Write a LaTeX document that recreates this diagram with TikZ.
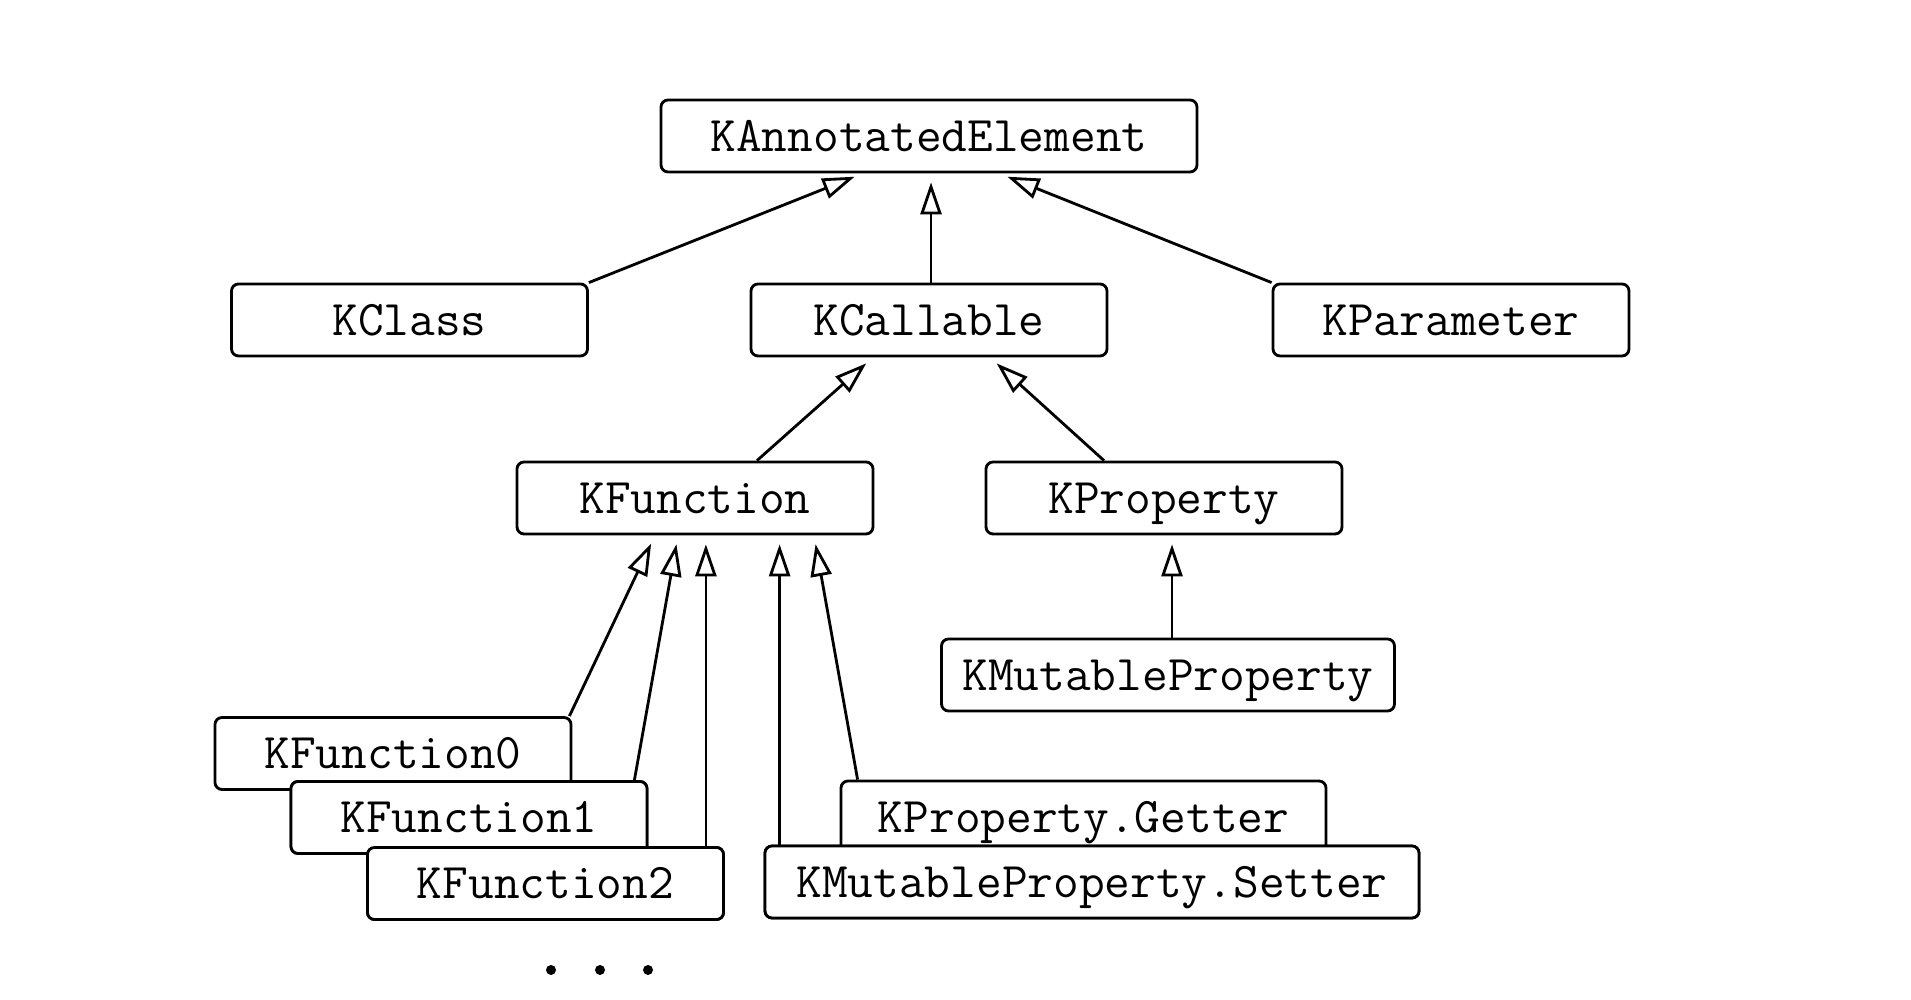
\documentclass[tikz,border=0pt]{standalone}
\usepackage{fontspec}
\usetikzlibrary{arrows.meta}

\begin{document}
\begin{tikzpicture}[
    klass/.style={draw, rounded corners=2pt, fill=white, line width=0.8pt,
        minimum width=3.56cm, minimum height=0.72cm, inner sep=0pt,
        text height=9.5pt, text depth=0.8pt,
        font=\ttfamily\fontsize{14.2}{16}\selectfont},
    inherit/.style={-{Triangle[open, length=0.32cm, width=0.21cm]},
        line width=0.8pt, shorten >=0.09cm}
]
    \useasboundingbox (0,0) rectangle (19.11,10);

    % Draw nodes
    \node[klass, minimum width=5.36cm] (kannot) at (9.29,8.64) {KAnnotatedElement};
    \node[klass] (kclass) at (4.095,6.80) {KClass};
    \node[klass] (kcall) at (9.29,6.80) {KCallable};
    \node[klass] (kparam) at (14.51,6.80) {KParameter};
    \node[klass] (kfun) at (6.95,5.02) {KFunction};
    \node[klass] (kprop) at (11.64,5.02) {KProperty};
    \node[klass, minimum width=4.53cm] (kmutprop) at (11.68,3.25) {KMutableProperty};
    \node[klass] (kfun0) at (3.93,2.465) {KFunction0};
    \node[klass] (kfun1) at (4.69,1.825) {KFunction1};
    \node[klass] (kfun2) at (5.455,1.165) {KFunction2};
    \node[klass, minimum width=4.85cm] (kgetter) at (10.835,1.83) {KProperty.Getter};
    \node[klass, minimum width=6.54cm] (ksetter) at (10.92,1.18) {KMutableProperty.Setter};

    % Draw connections
    \draw[inherit] (kclass.north east) -- ([xshift=-0.66cm]kannot.south);
    \draw[inherit] ([xshift=0.02cm]kcall.north) -- ([xshift=0.02cm]kannot.south);
    \draw[inherit] (kparam.north west) -- ([xshift=0.70cm]kannot.south);
    \draw[inherit] ([xshift=0.62cm]kfun.north) -- ([xshift=-0.56cm]kcall.south);
    \draw[inherit] ([xshift=-0.60cm]kprop.north) -- ([xshift=0.61cm]kcall.south);
    \draw[inherit] ([xshift=-0.03cm]kfun0.north east) -- ([xshift=-0.40cm]kfun.south);
    \draw[inherit] ([xshift=-0.14cm]kfun1.north east) -- ([xshift=-0.17cm]kfun.south);
    \draw[inherit] ([xshift=-0.19cm]kfun2.north east) -- ([xshift=-0.19cm]kfun2.north east |- kfun.south);
    \draw[inherit] ([xshift=0.16cm]ksetter.north west) -- ([xshift=0.16cm]ksetter.north west |- kfun.south);
    \draw[inherit] ([xshift=0.18cm]kgetter.north west) -- ([xshift=1.19cm]kfun.south);
    \draw[inherit] ([xshift=0.04cm]kmutprop.north) -- ([xshift=0.04cm]kmutprop.north |- kprop.south);

    % Boxes again on top of the lines
    \node[klass] at (kfun1) {KFunction1};
    \node[klass] at (kfun2) {KFunction2};
    \node[klass, minimum width=6.54cm] at (ksetter) {KMutableProperty.Setter};

    % More to come
    \fill (5.51,0.30) circle (0.05cm);
    \fill (6.00,0.30) circle (0.05cm);
    \fill (6.48,0.30) circle (0.05cm);
\end{tikzpicture}
\end{document}
